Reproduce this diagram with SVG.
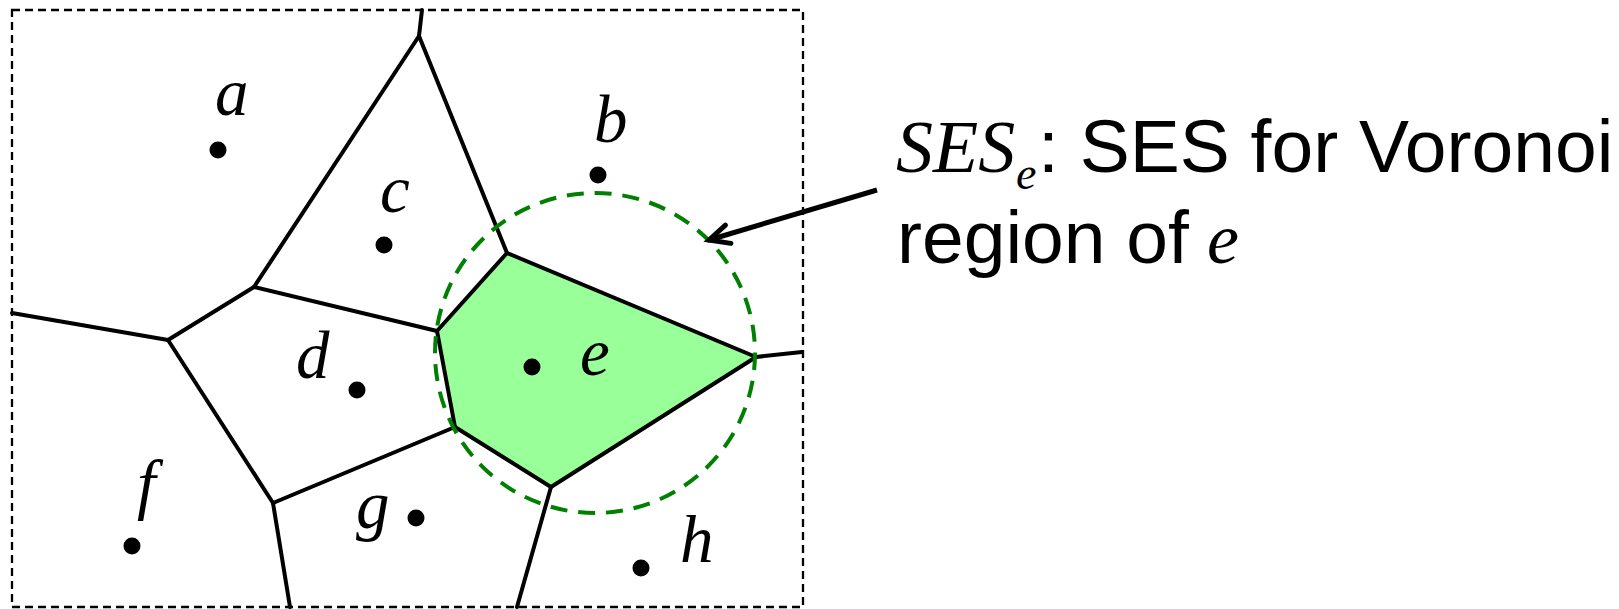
<svg xmlns="http://www.w3.org/2000/svg" width="1619" height="609" viewBox="0 0 1619 609">
<style>
.edge{stroke:#000;stroke-width:4;fill:none;stroke-linecap:round;stroke-linejoin:round}
.dot{fill:#000}
.lbl{font-family:"Liberation Serif",serif;font-style:italic;font-size:67px;fill:#000}
.sans{font-family:"Liberation Sans",Arial,sans-serif;font-size:75px;fill:#000}
.ital{font-family:"Liberation Serif",serif;font-style:italic;fill:#000}
</style>
<defs>
<marker id="openArrow" markerUnits="userSpaceOnUse" orient="auto" refX="0" refY="0" markerWidth="40" markerHeight="40" viewBox="-30 -20 40 40" overflow="visible">
<path d="M-20,-9.5 L0,0 L-20,9.5" fill="none" stroke="#000" stroke-width="5" stroke-linecap="round" stroke-linejoin="miter"/>
</marker>
</defs>
<rect x="0" y="0" width="1619" height="609" fill="#fff"/>
<g id="frame">
<rect x="12" y="10" width="791" height="597" fill="none" stroke="#000" stroke-width="2.3" stroke-dasharray="8 5"/>
</g>
<g id="region-e">
<polygon points="437,331 507,253 756,357 551,487 455,427" fill="#99ff99" stroke="none"/>
</g>
<g id="voronoi-edges">
<path class="edge" d="M422,10 L419,36"/>
<path class="edge" d="M419,36 L254,287"/>
<path class="edge" d="M419,36 L507,253"/>
<path class="edge" d="M254,287 L168,340"/>
<path class="edge" d="M254,287 L437,331"/>
<path class="edge" d="M12,313 L168,340"/>
<path class="edge" d="M168,340 L273,503"/>
<path class="edge" d="M273,503 L290,607"/>
<path class="edge" d="M273,503 L455,427"/>
<path class="edge" d="M437,331 L507,253 L756,357 L551,487 L455,427 Z"/>
<path class="edge" d="M756,357 L802,352"/>
<path class="edge" d="M551,487 L517,607"/>
</g>
<g id="ses-circle">
<circle cx="595" cy="353" r="160" fill="none" stroke="#008000" stroke-width="4" stroke-dasharray="17 10.9"/>
</g>
<g id="node-a"><circle class="dot" cx="218" cy="150" r="8.5"/><text class="lbl" x="215" y="115">a</text></g>
<g id="node-b"><circle class="dot" cx="598" cy="175" r="8.5"/><text class="lbl" x="594" y="142">b</text></g>
<g id="node-c"><circle class="dot" cx="384" cy="245" r="8.5"/><text class="lbl" x="380" y="212">c</text></g>
<g id="node-d"><circle class="dot" cx="357" cy="390" r="8.5"/><text class="lbl" x="296" y="378">d</text></g>
<g id="node-e"><circle class="dot" cx="532" cy="367" r="8.5"/><text class="lbl" x="580" y="375">e</text></g>
<g id="node-f"><circle class="dot" cx="132" cy="546" r="8.5"/><text class="lbl" x="137" y="507">f</text></g>
<g id="node-g"><circle class="dot" cx="416" cy="518" r="8.5"/><text class="lbl" x="356" y="528">g</text></g>
<g id="node-h"><circle class="dot" cx="641" cy="568" r="8.5"/><text class="lbl" x="680" y="562">h</text></g>
<g id="connectors">
<line x1="877" y1="190" x2="709" y2="240" stroke="#000" stroke-width="5" marker-end="url(#openArrow)"/>
</g>
<g id="annotation">
<text class="ital" x="896" y="172" font-size="74">SES</text>
<text class="ital" x="1016" y="189" font-size="46">e</text>
<text class="sans" x="1038" y="172">: SES for Voronoi</text>
<text class="sans" x="897" y="263">region of <tspan class="ital" font-size="72" x="1207">e</tspan></text>
</g>
</svg>
